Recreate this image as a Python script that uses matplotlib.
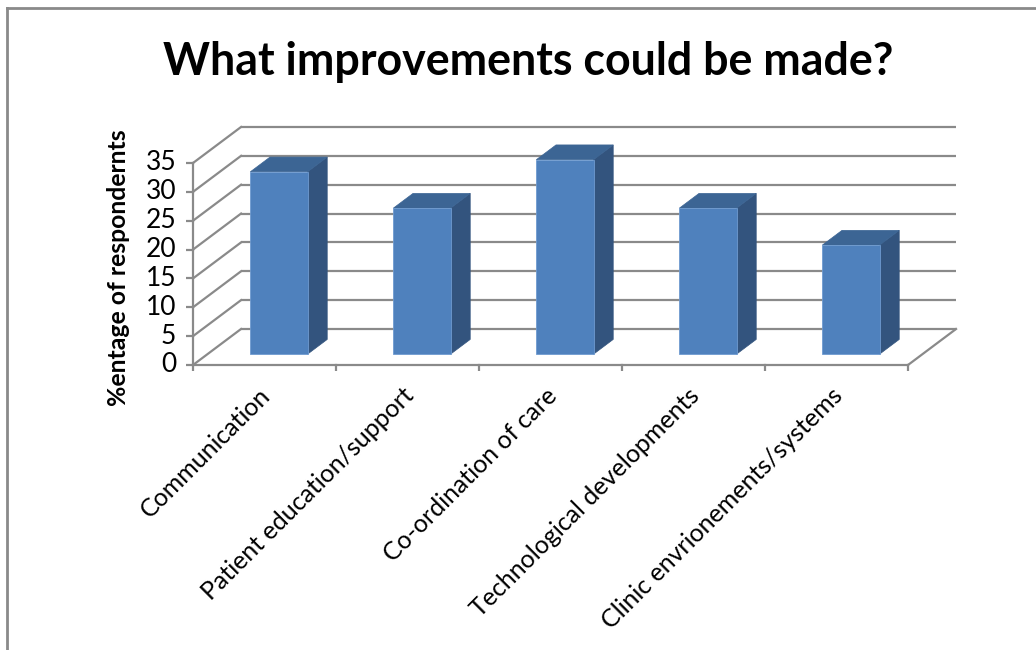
import matplotlib
matplotlib.use("Agg")
import matplotlib.pyplot as plt
from matplotlib.patches import Polygon
from matplotlib.lines import Line2D

# ---------------- data ----------------
categories = ["Communication", "Patient education/support", "Co-ordination of care",
              "Technological developments", "Clinic envrionements/systems"]
values = [31.6, 25.3, 33.7, 25.3, 18.9]
yticks = [0, 5, 10, 15, 20, 25, 30, 35]
title = "What improvements could be made?"
ylabel = "%entage of respondernts"

# ---------------- style / geometry ----------------
W, H = 1036, 650
FONT = "Lato"
FRONT_LEFT_PX = 193.0      # pixel x of category -0.5 on the front plane
CAT_PX = 143.0             # pixels per category
ZERO_PX = 365.0            # pixel y of value 0 on the front plane
UNIT_PX = 202.0 / 35.0     # pixels per value unit
DX = 0.336                 # depth offset (category units)
DY = 6.24                  # depth offset (value units)
F0 = 0.30                  # bar front face depth fraction
D = 0.41                   # bar depth fraction
BW = 0.40                  # bar width (category units)
GRID = "#8a8a8a"
FRONT_C = "#4F81BD"
TOP_C = "#3C6594"
SIDE_C = "#33547E"

fig = plt.figure(figsize=(W / 100, H / 100), dpi=100)
fig.patch.set_facecolor("white")

n = len(categories)
ymax = yticks[-1]
xlo, xhi = -0.55, n - 0.5 + DX + 0.05
ylo, yhi = -1.0, ymax + DY + 1.0
left_px = FRONT_LEFT_PX + (xlo + 0.5) * CAT_PX
right_px = FRONT_LEFT_PX + (xhi + 0.5) * CAT_PX
bottom_px = ZERO_PX - ylo * UNIT_PX
top_px = ZERO_PX - yhi * UNIT_PX
ax = fig.add_axes([left_px / W, 1 - bottom_px / H,
                   (right_px - left_px) / W, (bottom_px - top_px) / H])
ax.set_xlim(xlo, xhi)
ax.set_ylim(ylo, yhi)
ax.axis("off")

lw = 1.6
# back wall gridlines and side wall diagonals
for v in yticks:
    ax.plot([-0.5 + DX, n - 0.5 + DX], [v + DY, v + DY], color=GRID, lw=lw,
            zorder=1, solid_capstyle="butt")
    ax.plot([-0.5, -0.5 + DX], [v, v + DY], color=GRID, lw=lw, zorder=1)
# floor
ax.plot([-0.5, n - 0.5], [0, 0], color=GRID, lw=lw, zorder=1)
ax.plot([n - 0.5, n - 0.5 + DX], [0, DY], color=GRID, lw=lw, zorder=1)
# front vertical axis
ax.plot([-0.5, -0.5], [0, ymax], color=GRID, lw=lw, zorder=1)

tick_len_y = 9.0 / CAT_PX
for v in yticks:
    ax.plot([-0.5 - tick_len_y, -0.5], [v, v], color=GRID, lw=lw, zorder=1)
    ax.text(-0.5 - 17.0 / CAT_PX, v, str(v), ha="right", va="center",
            fontsize=19, family=FONT, color="black")
tick_len_x = 8.0 / UNIT_PX
for k in range(n + 1):
    ax.plot([k - 0.5, k - 0.5], [0, -tick_len_x], color=GRID, lw=lw, zorder=1)

# bars
for i, v in enumerate(values):
    cx = i + F0 * DX
    xl, xr = cx - BW / 2, cx + BW / 2
    y0 = F0 * DY
    yt = y0 + v
    ddx, ddy = D * DX, D * DY
    side = Polygon([(xr, y0), (xr + ddx, y0 + ddy), (xr + ddx, yt + ddy), (xr, yt)],
                   closed=True, facecolor=SIDE_C, edgecolor=SIDE_C, lw=0.5, zorder=3)
    top = Polygon([(xl, yt), (xr, yt), (xr + ddx, yt + ddy), (xl + ddx, yt + ddy)],
                  closed=True, facecolor=TOP_C, edgecolor=TOP_C, lw=0.5, zorder=3)
    ax.add_patch(side)
    ax.add_patch(top)
    ax.bar([cx], [v], width=BW, bottom=y0, color=FRONT_C, edgecolor="#6f9bd0",
           linewidth=0.6, zorder=4)

# category labels
for i, c in enumerate(categories):
    ax.text(i - 0.04, -18.5 / UNIT_PX, c, rotation=45, rotation_mode="anchor",
            ha="right", va="top", fontsize=18, family=FONT, color="black")

# title and y label
t = fig.text(528 / W, 1 - 62 / H, title, ha="center", va="center",
             fontsize=30, fontweight="bold", family=FONT)
yl = fig.text(118 / W, 1 - 268 / H, ylabel, ha="center", va="center",
              rotation=90, fontsize=16, fontweight="bold", family=FONT)

# fit title and y label lengths to reference
fig.canvas.draw()
r = fig.canvas.get_renderer()
bb = t.get_window_extent(r)
t.set_fontsize(30 * 730.0 / bb.width)
bb = yl.get_window_extent(r)
yl.set_fontsize(16 * 278.0 / bb.height)

# chart frame
fig.add_artist(Line2D([7 / W, 7 / W], [0, 1 - 8 / H], transform=fig.transFigure,
                      color="#8a8a8a", lw=2))
fig.add_artist(Line2D([7 / W, 1], [1 - 8 / H, 1 - 8 / H], transform=fig.transFigure,
                      color="#8a8a8a", lw=2))

fig.savefig("out.png", dpi=100, facecolor="white")
